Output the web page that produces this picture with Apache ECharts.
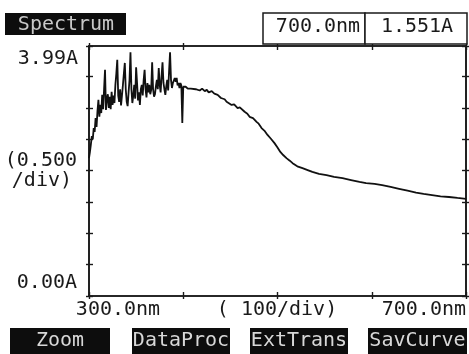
<!DOCTYPE html>
<html>
<head>
<meta charset="utf-8">
<script src="https://cdn.jsdelivr.net/npm/echarts@6/dist/echarts.min.js"></script>
<style>html,body{margin:0;padding:0;background:#fff}#c{width:469px;height:354px}</style>
</head>
<body>
<div id="c"></div>
<script>
var wavelength = [300,301,302,303,304,305,306,307,308,309,310,311,312,313,314,315,316,317,318,319,320,321,322,323,324,325,326,327,328,329,330,331,332,333,334,335,336,337,338,339,340,341,342,343,344,345,346,347,348,349,350,351,352,353,354,355,356,357,358,359,360,361,362,363,364,365,366,367,368,369,370,371,372,373,374,375,376,377,378,379,380,381,382,383,384,385,386,387,388,389,390,391,392,393,394,395,396,397,398,399,400,402.6,404.8,406.9,408,410,413.2,415,417.5,420,422.8,425,427,430.2,433,436.5,438,440,443.9,446,448,451.3,454,457.7,460,465.1,468,470.4,474,477.8,480,483.1,486,489.4,493,496.8,500,503,506,509.5,513,516,521,526.5,532,537,544,552,560,569,578,587,594,603,611,620,629,638,647,655,664,673,682,691,700];
var absorbance = [2.20,2.30,2.42,2.55,2.50,2.68,2.62,2.84,2.70,2.95,3.13,2.86,3.05,2.92,3.21,2.98,3.30,3.61,2.97,3.15,3.22,3.00,3.18,2.98,3.26,3.05,3.20,3.08,3.37,3.55,3.77,3.20,3.10,3.30,3.04,3.20,3.37,3.55,3.72,3.30,3.10,3.03,3.25,3.45,3.89,3.30,3.08,3.20,3.37,3.15,3.65,3.40,3.12,3.25,3.05,3.30,3.37,3.20,3.45,3.61,3.30,3.17,3.40,3.25,3.37,3.22,3.29,3.73,3.30,3.18,3.22,3.35,3.45,3.30,3.64,3.37,3.25,3.51,3.73,3.40,3.30,3.21,3.35,3.45,3.28,3.60,3.89,3.45,3.32,3.40,3.38,3.48,3.42,3.48,3.36,3.40,3.32,3.40,3.36,2.76,3.34,3.34,3.31,3.34,3.31,3.33,3.30,3.31,3.28,3.31,3.27,3.29,3.25,3.27,3.23,3.21,3.22,3.16,3.14,3.10,3.12,3.05,3.06,3.00,3.01,2.94,2.91,2.86,2.84,2.78,2.75,2.68,2.64,2.57,2.51,2.44,2.37,2.30,2.25,2.20,2.16,2.12,2.07,2.04,2.01,1.98,1.95,1.93,1.90,1.88,1.85,1.82,1.80,1.79,1.77,1.74,1.71,1.68,1.65,1.63,1.61,1.59,1.58,1.565,1.551];
var yTickLabels = ['3.99A', '(0.500', '/div)', '0.00A'];
var xTickLabels = ['300.0nm', '( 100/div)', '700.0nm'];
var headerTitle = 'Spectrum';
var readout = ['700.0nm', '1.551A'];
var buttons = ['Zoom', 'DataProc', 'ExtTrans', 'SavCurve'];

var FONT = '"DejaVu Sans Mono", monospace';
var INK = '#1a1a1a';
var chart = echarts.init(document.getElementById('c'), null, {renderer: 'canvas'});

function axisX(pos, inside, len) {
  return {type: 'value', min: 300, max: 700, interval: 100, position: pos, gridIndex: 0,
    axisLine: {show: true, onZero: false, lineStyle: {color: INK, width: 1.6}},
    axisTick: {show: true, inside: inside, length: len, lineStyle: {color: INK, width: 1.4}},
    axisLabel: {show: false}, splitLine: {show: false}};
}
function axisY(pos, inside, len) {
  return {type: 'value', min: 0, max: 3.99, interval: 0.5, position: pos, gridIndex: 0,
    axisLine: {show: true, onZero: false, lineStyle: {color: INK, width: 1.6}},
    axisTick: {show: true, inside: inside, length: len, lineStyle: {color: INK, width: 1.4}},
    axisLabel: {show: false}, splitLine: {show: false}};
}

var g = [];
function txt(x, y, s, align, color) {
  g.push({type: 'text', x: x, y: y, style: {text: s, font: '20px ' + FONT, fill: color || INK, textAlign: align || 'left', textVerticalAlign: 'middle'}, z: 10});
}
function box(x, y, w, h, fill, stroke) {
  g.push({type: 'rect', shape: {x: x, y: y, width: w, height: h}, style: {fill: fill, stroke: stroke || null, lineWidth: 1.5}, z: 5});
}
// header
box(5, 13, 121, 22, '#0d0d0d');
txt(66, 25, headerTitle, 'center', '#c8c8c8');
box(263, 13, 102, 31, '#fff', INK);
box(365, 13, 102, 31, '#fff', INK);
txt(318, 27, readout[0], 'center');
txt(417, 27, readout[1], 'center');
// y labels
txt(78, 59, yTickLabels[0], 'right');
txt(77, 161, yTickLabels[1], 'right');
txt(72, 181, yTickLabels[2], 'right');
txt(77, 283, yTickLabels[3], 'right');
// x labels
txt(118, 310, xTickLabels[0], 'center');
txt(277, 310, xTickLabels[1], 'center');
txt(466, 310, xTickLabels[2], 'right');
// buttons
var bx = [[10, 100], [132, 98], [250, 98], [368, 99]];
for (var i = 0; i < buttons.length; i++) {
  box(bx[i][0], 328, bx[i][1], 26, '#0d0d0d');
  txt(bx[i][0] + bx[i][1] / 2, 341, buttons[i], 'center', '#d8d8d8');
}

var data = wavelength.map(function (w, i) { return [w, absorbance[i]]; });

chart.setOption({
  animation: false,
  backgroundColor: '#fff',
  grid: {left: 89, right: 3, top: 46, bottom: 58, containLabel: false},
  xAxis: [axisX('bottom', true, 4), axisX('bottom', false, 3), axisX('top', true, 4), axisX('top', false, 3)],
  yAxis: [axisY('left', true, 4), axisY('left', false, 3), axisY('right', true, 4), axisY('right', false, 3)],
  series: [{type: 'line', data: data, xAxisIndex: 0, yAxisIndex: 0, showSymbol: false, smooth: false,
    lineStyle: {color: '#111', width: 1.8}}],
  graphic: g
});
</script>
</body>
</html>
